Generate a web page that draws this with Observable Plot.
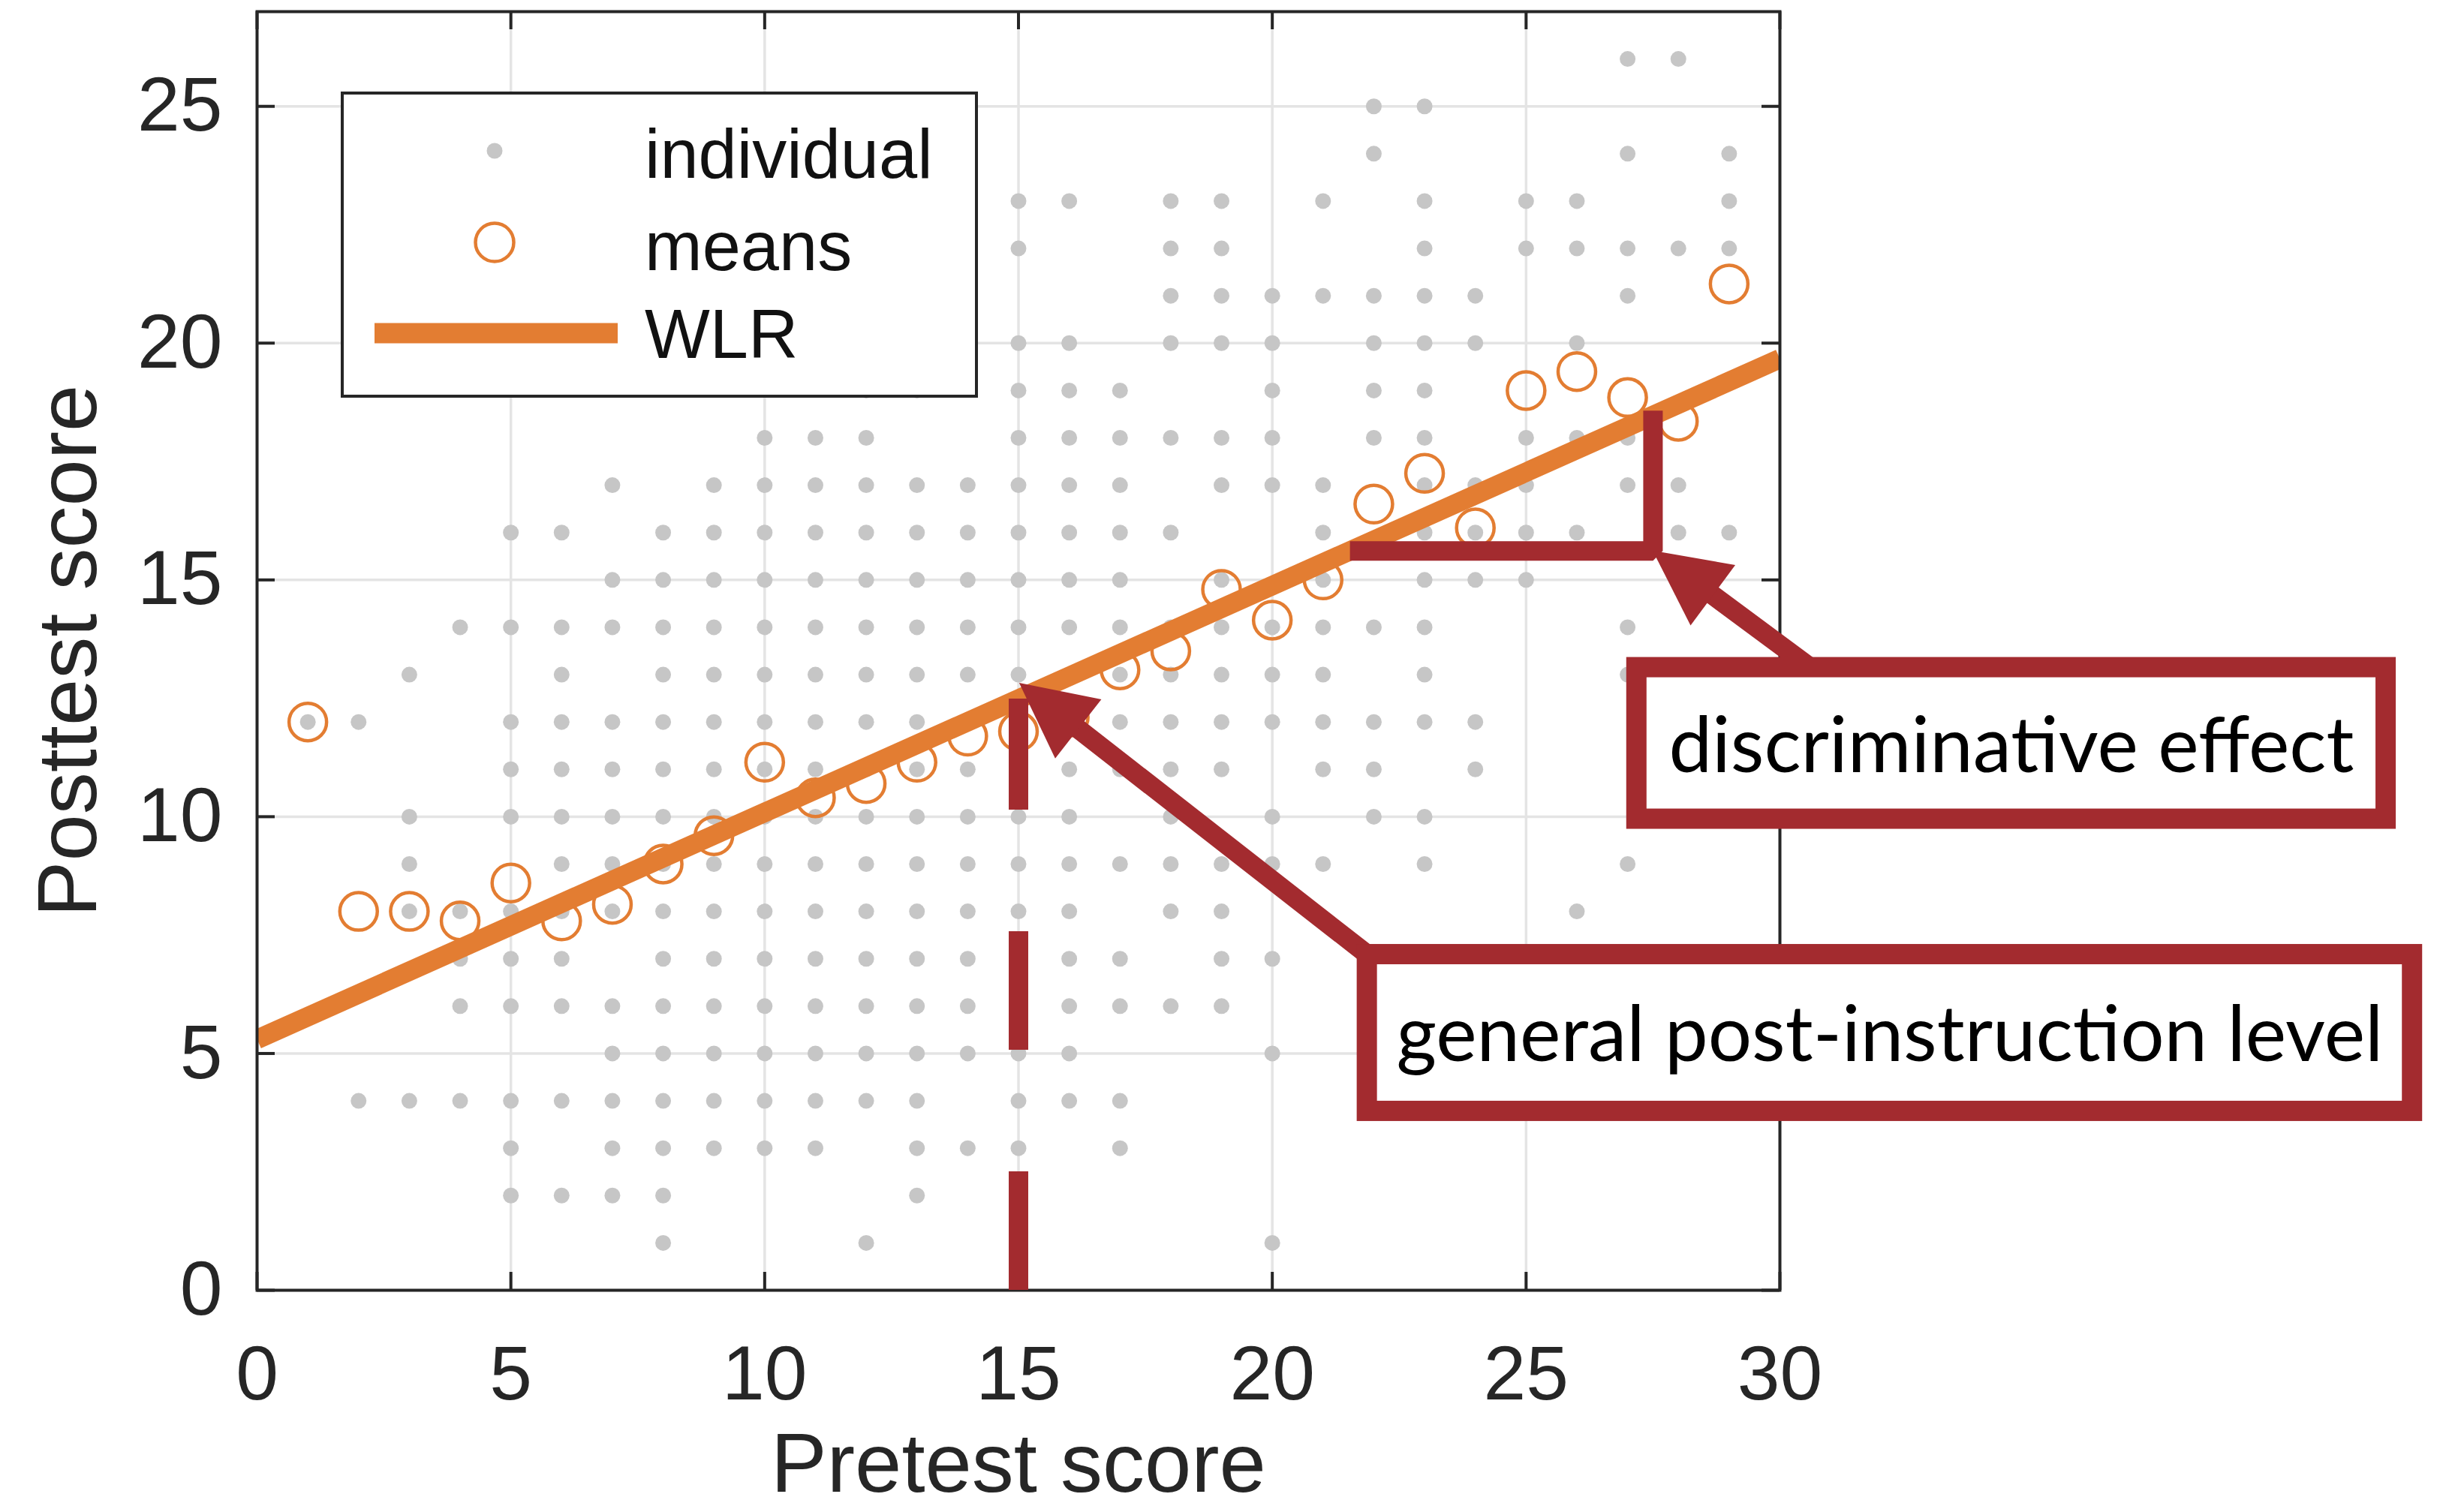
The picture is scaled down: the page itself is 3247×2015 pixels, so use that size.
<!DOCTYPE html>
<html>
<head>
<meta charset="utf-8">
<script src="https://cdn.jsdelivr.net/npm/d3@7"></script>
<script src="https://cdn.jsdelivr.net/npm/@observablehq/plot@0.6"></script>
<style>
  html, body { margin: 0; padding: 0; background: #ffffff; }
</style>
</head>
<body>
<div id="chart"></div>
<script>
// ---- data -------------------------------------------------------------
// Posttest score levels (rows) and the pretest scores observed at each level.
const posttestLevels = [26, 25, 24, 23, 22, 21, 20, 19, 18, 17, 16, 15, 14, 13, 12, 11, 10, 9, 8, 7, 6, 5, 4, 3, 2, 1];
const pretestAtLevel = [
  [27, 28],
  [22, 23],
  [22, 27, 29],
  [15, 16, 18, 19, 21, 23, 25, 26, 29],
  [15, 18, 19, 23, 25, 26, 27, 28, 29],
  [18, 19, 20, 21, 22, 23, 24, 27],
  [15, 16, 18, 19, 20, 22, 23, 24, 26],
  [12, 13, 15, 16, 17, 20, 22, 23],
  [10, 11, 12, 15, 16, 17, 18, 19, 20, 22, 23, 25, 26, 27],
  [7, 9, 10, 11, 12, 13, 14, 15, 16, 17, 19, 20, 21, 23, 24, 25, 27, 28],
  [5, 6, 8, 9, 10, 11, 12, 13, 14, 15, 16, 17, 18, 21, 23, 24, 25, 26, 28, 29],
  [7, 8, 9, 10, 11, 12, 13, 14, 15, 16, 17, 19, 21, 23, 24, 25],
  [4, 5, 6, 7, 8, 9, 10, 11, 12, 13, 14, 15, 16, 17, 18, 19, 20, 21, 22, 23, 27],
  [3, 6, 8, 9, 10, 11, 12, 13, 14, 15, 16, 17, 18, 19, 20, 21, 23, 27],
  [1, 2, 5, 6, 7, 8, 9, 10, 11, 12, 13, 14, 15, 16, 17, 18, 19, 20, 21, 22, 23, 24],
  [5, 6, 7, 8, 9, 10, 11, 12, 13, 14, 15, 16, 17, 18, 19, 21, 22, 24],
  [3, 5, 6, 7, 8, 9, 10, 11, 12, 13, 14, 15, 16, 18, 20, 22, 23],
  [3, 6, 7, 8, 9, 10, 11, 12, 13, 14, 15, 16, 17, 18, 19, 20, 21, 23, 27],
  [3, 4, 5, 6, 7, 8, 9, 10, 11, 12, 13, 14, 15, 16, 18, 19, 26],
  [4, 5, 6, 8, 9, 10, 11, 12, 13, 14, 15, 16, 17, 19, 20],
  [4, 5, 6, 7, 8, 9, 10, 11, 12, 13, 14, 15, 16, 17, 18, 19],
  [7, 8, 9, 10, 11, 12, 13, 14, 15, 16, 20],
  [2, 3, 4, 5, 6, 7, 8, 9, 10, 11, 12, 13, 15, 16, 17],
  [5, 7, 8, 9, 10, 11, 13, 14, 15, 17],
  [5, 6, 7, 8, 13],
  [8, 12, 20]
];

// Mean posttest score for each pretest score.
const meanPretest  = [1, 2, 3, 4, 5, 6, 7, 8, 9, 10, 11, 12, 13, 14, 15, 16, 17, 18, 19, 20, 21, 22, 23, 24, 25, 26, 27, 28, 29];
const meanPosttest = [12.0, 8.0, 8.0, 7.8, 8.6, 7.8, 8.15, 9.0, 9.6, 11.15, 10.4, 10.7, 11.15, 11.7, 11.8, 12.1, 13.1, 13.5, 14.8, 14.15, 15.0, 16.6, 17.25, 16.1, 19.0, 19.4, 18.85, 18.35, 21.25];

// Weighted linear regression of posttest on pretest.
const wlrIntercept = 5.3;
const wlrSlope = 0.479;
const wlrRange = [0, 30];

// Axis ticks and labels.
const xTicks = [0, 5, 10, 15, 20, 25, 30];
const yTicks = [0, 5, 10, 15, 20, 25];
const xLabel = "Pretest score";
const yLabel = "Posttest score";
const legendLabels = ["individual", "means", "WLR"];

// Annotations: the pretest value read off the fit, the run of the slope triangle,
// and the two callouts.
const markedPretest = 15;
const slopeRun = [21.53, 27.5];
const calloutText = ["discriminative effect", "general post-instruction level"];

// ---- derived tables ----------------------------------------------------
const wlr = (x) => wlrIntercept + wlrSlope * x;
const individuals = posttestLevels.flatMap((y, i) => pretestAtLevel[i].map((x) => ({x, y})));
const means = meanPretest.map((x, i) => ({x, y: meanPosttest[i]}));
const slopeCorner = [
  [slopeRun[0], wlr(slopeRun[0])],
  [slopeRun[1], wlr(slopeRun[0])],
  [slopeRun[1], wlr(slopeRun[1]) + 0.1]
];
const callouts = [
  {text: calloutText[0], x1: 27.18, x2: 41.94, y1: 9.95, y2: 13.15,
   tip: [slopeRun[1], wlr(slopeRun[0])], tail: [30.6, 13.15]},
  {text: calloutText[1], x1: 21.87, x2: 42.46, y1: 3.78, y2: 7.09,
   tip: [markedPretest + 0.02, 12.82], tail: [21.87, 7.09]}
];

// ---- layout and styles -------------------------------------------------
const W = 3247, H = 2015;
const margin = {top: 15, right: 876, bottom: 296, left: 342};
const frameW = W - margin.left - margin.right;
const frameH = H - margin.top - margin.bottom;
const tickLen = 24;
const axisColor = "#262626";
const gridColor = "#e4e4e4";
const dotColor = "#c6c6c6";
const orange = "#e37d32";
const red = "#a32b2f";
const axisFont = "Liberation Sans, Arial, Helvetica, sans-serif";
const noteFont = "Lato, 'Open Sans', sans-serif";

// Legend drawn inside the upper-left of the frame.
function legend(index, scales, values, dims) {
  const g = d3.create("svg:g");
  const x0 = dims.marginLeft + 112, y0 = dims.marginTop + 107;
  g.append("rect")
    .attr("x", x0 + 2).attr("y", y0 + 2)
    .attr("width", 845).attr("height", 404)
    .attr("fill", "white").attr("stroke", axisColor).attr("stroke-width", 4);
  g.append("circle")
    .attr("cx", x0 + 205).attr("cy", y0 + 79).attr("r", 10.5)
    .attr("fill", dotColor);
  g.append("circle")
    .attr("cx", x0 + 205).attr("cy", y0 + 201).attr("r", 25.5)
    .attr("fill", "none").attr("stroke", orange).attr("stroke-width", 4.5);
  g.append("line")
    .attr("x1", x0 + 45).attr("x2", x0 + 369)
    .attr("y1", y0 + 322).attr("y2", y0 + 322)
    .attr("stroke", orange).attr("stroke-width", 27);
  const baselines = [115, 238, 354.5];
  legendLabels.forEach((label, i) => {
    g.append("text")
      .attr("x", x0 + 405).attr("y", y0 + baselines[i])
      .attr("text-anchor", "start")
      .attr("font-family", axisFont).attr("font-size", 92)
      .attr("fill", "#111").text(label);
  });
  return g.node();
}

// Callout arrows with filled triangular heads.
function arrows(index, scales) {
  const g = d3.create("svg:g");
  const headLen = 100, headHalf = 50, shaft = 26;
  for (const c of callouts) {
    const tx = scales.x(c.tip[0]), ty = scales.y(c.tip[1]);
    const sx = scales.x(c.tail[0]), sy = scales.y(c.tail[1]);
    const len = Math.hypot(tx - sx, ty - sy);
    const ux = (tx - sx) / len, uy = (ty - sy) / len;
    const bx = tx - ux * headLen, by = ty - uy * headLen;
    g.append("line")
      .attr("x1", sx).attr("y1", sy)
      .attr("x2", bx + ux * 4).attr("y2", by + uy * 4)
      .attr("stroke", red).attr("stroke-width", shaft);
    g.append("path")
      .attr("d", `M${tx},${ty}L${bx - uy * headHalf},${by + ux * headHalf}L${bx + uy * headHalf},${by - ux * headHalf}Z`)
      .attr("fill", red);
  }
  return g.node();
}

const chart = Plot.plot({
  width: W,
  height: H,
  marginTop: margin.top,
  marginRight: margin.right,
  marginBottom: margin.bottom,
  marginLeft: margin.left,
  x: {domain: [0, 30], axis: null},
  y: {domain: [0, 27], axis: null},
  style: {background: "white", fontFamily: axisFont, fontSize: "100px", color: axisColor},
  marks: [
    // grid
    Plot.ruleX(xTicks, {stroke: gridColor, strokeWidth: 3.5}),
    Plot.ruleY(yTicks, {stroke: gridColor, strokeWidth: 3.5}),
    // data
    Plot.dot(individuals, {x: "x", y: "y", r: 10.5, fill: dotColor}),
    Plot.dot(means, {x: "x", y: "y", r: 25, stroke: orange, strokeWidth: 4.5, fill: "none"}),
    Plot.line(wlrRange, {x: (d) => d, y: (d) => wlr(d), stroke: orange, strokeWidth: 26, strokeLinecap: "butt", clip: true}),
    // box and inward ticks on all four sides
    Plot.frame({stroke: axisColor, strokeWidth: 4}),
    Plot.ruleX(xTicks, {insetTop: frameH - tickLen, stroke: axisColor, strokeWidth: 4}),
    Plot.ruleX(xTicks, {insetBottom: frameH - tickLen, stroke: axisColor, strokeWidth: 4}),
    Plot.ruleY(yTicks, {insetRight: frameW - tickLen, stroke: axisColor, strokeWidth: 4}),
    Plot.ruleY(yTicks, {insetLeft: frameW - tickLen, stroke: axisColor, strokeWidth: 4}),
    legend,
    // tick labels and axis titles
    Plot.text(xTicks, {x: (d) => d, text: (d) => String(d), frameAnchor: "bottom", dy: 145, fontSize: 102, fill: axisColor}),
    Plot.text(yTicks, {y: (d) => d, text: (d) => String(d), frameAnchor: "left", dx: -46, textAnchor: "end", fontSize: 102, fill: axisColor}),
    Plot.text([xLabel], {text: (d) => d, frameAnchor: "bottom", dy: 268, fontSize: 112, fill: axisColor}),
    Plot.text([yLabel], {text: (d) => d, frameAnchor: "left", textAnchor: "middle", dx: -250, rotate: -90, fontSize: 112, fill: axisColor}),
    // annotations
    Plot.ruleX([markedPretest], {x: (d) => d, y1: 0, y2: (d) => wlr(d), stroke: red, strokeWidth: 26, strokeDasharray: "158,162"}),
    Plot.line(slopeCorner, {x: (d) => d[0], y: (d) => d[1], stroke: red, strokeWidth: 26, strokeLinejoin: "miter", strokeLinecap: "butt"}),
    arrows,
    Plot.rect(callouts, {x1: "x1", x2: "x2", y1: "y1", y2: "y2", fill: "white", stroke: red, strokeWidth: 27}),
    Plot.text(callouts, {x: (d) => (d.x1 + d.x2) / 2, y: (d) => (d.y1 + d.y2) / 2, text: "text", dy: 5, fontFamily: noteFont, fontSize: 103, fill: "black"})
  ]
});

document.getElementById("chart").appendChild(chart);
</script>
</body>
</html>
